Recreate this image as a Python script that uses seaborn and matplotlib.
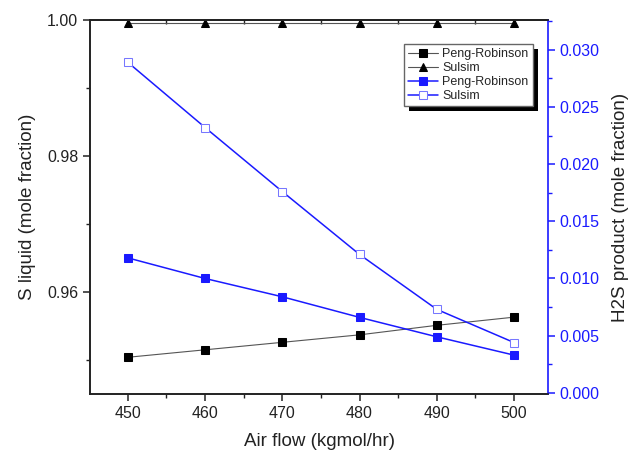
import matplotlib
matplotlib.use("Agg")
import matplotlib.pyplot as plt
import seaborn as sns
import pandas as pd
from matplotlib.ticker import MultipleLocator, FormatStrFormatter, NullFormatter
from matplotlib.patches import Rectangle

air_flow = [450, 460, 470, 480, 490, 500]
s_liquid_pr = [0.9504, 0.9515, 0.9526, 0.9537, 0.9551, 0.9563]
s_liquid_sulsim = [0.9995, 0.9995, 0.9995, 0.9995, 0.9995, 0.9995]
h2s_pr = [0.0118, 0.0100, 0.0084, 0.0066, 0.0049, 0.0033]
h2s_sulsim = [0.0289, 0.0232, 0.0176, 0.0121, 0.0073, 0.0044]

sns.set_style("ticks")
plt.rcParams["font.family"] = ["Liberation Sans", "DejaVu Sans"]

fig = plt.figure(figsize=(6.41, 4.54), dpi=100)
ax = fig.add_axes([90/641, 60/454, 458/641, 374/454])
ax2 = ax.twinx()

blue = "#1a1aff"
sns.lineplot(x=air_flow, y=s_liquid_pr, ax=ax, color="#555555", lw=0.8,
             marker="s", markersize=6, markerfacecolor="black", markeredgecolor="black",
             label="Peng-Robinson", legend=False)
sns.lineplot(x=air_flow, y=s_liquid_sulsim, ax=ax, color="#555555", lw=0.8,
             marker="^", markersize=5.5, markerfacecolor="black", markeredgecolor="black",
             label="Sulsim", legend=False)
sns.lineplot(x=air_flow, y=h2s_pr, ax=ax2, color=blue, lw=1.1,
             marker="s", markersize=6, markerfacecolor=blue, markeredgecolor=blue,
             label="Peng-Robinson", legend=False)
sns.lineplot(x=air_flow, y=h2s_sulsim, ax=ax2, color=blue, lw=1.1,
             marker="s", markersize=6, markerfacecolor="white", markeredgecolor="#7777ff",
             label="Sulsim", legend=False)

ax.set_xlim(445.1, 504.4)
ax.set_ylim(0.945, 1.0)
ax2.set_ylim(-0.0001, 0.0326)

ax.xaxis.set_major_locator(MultipleLocator(10))
ax.xaxis.set_minor_locator(MultipleLocator(5))
ax.yaxis.set_major_locator(MultipleLocator(0.02))
ax.yaxis.set_minor_locator(MultipleLocator(0.01))
ax.yaxis.set_major_formatter(FormatStrFormatter("%.2f"))
ax2.yaxis.set_major_locator(MultipleLocator(0.005))
ax2.yaxis.set_minor_locator(MultipleLocator(0.0025))
ax2.yaxis.set_major_formatter(FormatStrFormatter("%.3f"))

for a in (ax, ax2):
    for s in a.spines.values():
        s.set_linewidth(1.2)
        s.set_color("#222222")
ax.spines["right"].set_visible(False)
ax2.spines["right"].set_color(blue)

ax.tick_params(axis="both", which="major", length=5, width=1.1, labelsize=11.5,
               colors="#222222", direction="out")
ax.tick_params(axis="both", which="minor", length=3, width=1.0, direction="out",
               colors="#222222")
ax2.tick_params(axis="y", which="major", length=5, width=1.1, labelsize=11.5,
                colors=blue, direction="out")
ax2.tick_params(axis="y", which="minor", length=3, width=1.0, colors=blue, direction="out")

top = ax.secondary_xaxis("top")
top.xaxis.set_major_locator(MultipleLocator(10))
top.xaxis.set_minor_locator(MultipleLocator(5))
top.xaxis.set_major_formatter(NullFormatter())
top.tick_params(axis="x", which="major", direction="in", length=5, width=1.1, colors="#222222")
top.tick_params(axis="x", which="minor", direction="in", length=3, width=1.0, colors="#222222")
top.spines["top"].set_linewidth(1.2)
top.spines["top"].set_color("#222222")

ax.set_xlabel("Air flow (kgmol/hr)", fontsize=13.5, color="#222222", labelpad=9)
ax.set_ylabel("S liquid (mole fraction)", fontsize=13.5, color="#222222", labelpad=8)
ax2.set_ylabel("H2S product (mole fraction)", fontsize=13.5, color="#222222", labelpad=9)

h1, l1 = ax.get_legend_handles_labels()
h2, l2 = ax2.get_legend_handles_labels()
leg = ax2.legend(h1 + h2, l1 + l2, loc="upper left",
                 bbox_to_anchor=((404 - 90) / 458, (454 - 44 - 60) / 374),
                 fontsize=9, frameon=True, fancybox=False, edgecolor="#666666",
                 facecolor="white", framealpha=1,
                 handlelength=2.4, handletextpad=0.3, labelspacing=0.15,
                 borderpad=0.35, borderaxespad=0)
leg.get_frame().set_linewidth(1.0)
leg.set_zorder(10)

fig.canvas.draw()
bb = leg.get_window_extent()
shadow = Rectangle((bb.x0 + 5, bb.y0 - 5), bb.width, bb.height, transform=None,
                   facecolor="black", edgecolor="none", zorder=9, clip_on=False)
ax2.add_artist(shadow)

fig.savefig("out.png", dpi=100, facecolor="white")
